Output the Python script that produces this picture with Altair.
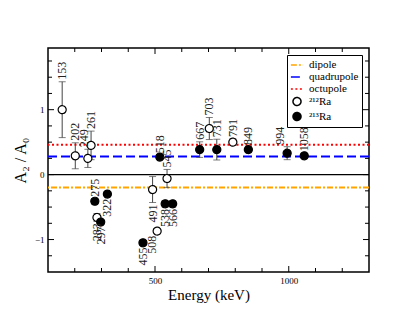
import altair as alt
import pandas as pd

# 212Ra (open circles)
E212 = [153, 202, 249, 261, 283, 491, 508, 545, 703, 791]
A212 = [1.00, 0.29, 0.25, 0.45, -0.66, -0.23, -0.87, -0.06, 0.71, 0.50]
ERR212 = [0.43, 0.20, 0.14, 0.22, 0.06, 0.20, 0.04, 0.14, 0.17, 0.05]

# 213Ra (filled circles)
E213 = [275, 297, 322, 455, 518, 538, 566, 667, 731, 849, 994, 1058]
A213 = [-0.41, -0.73, -0.30, -1.05, 0.27, -0.45, -0.45, 0.385, 0.385, 0.385, 0.33, 0.29]
ERR213 = [0.04, 0.04, 0.04, 0.04, 0.03, 0.05, 0.05, 0.12, 0.16, 0.04, 0.10, 0.04]

# theoretical reference lines
LINE_NAMES = ["dipole", "quadrupole", "octupole"]
LINE_VALUES = [-0.20, 0.28, 0.46]

SERIES = ["dipole", "quadrupole", "octupole", "\u00b2\u00b9\u00b2Ra", "\u00b2\u00b9\u00b3Ra"]
COLORS = ["#FFA500", "#0000FF", "#FF0000", "black", "black"]
DASHES = [[6, 2, 2, 2], [9, 4], [2, 2.5], [1, 0], [1, 0]]
FILLS = ["transparent", "transparent", "transparent", "white", "black"]
SIZES = [150, 150, 150, 64, 64]

BELOW = [283, 297, 322, 455, 491, 508, 538, 566]
# sideways nudges of a few labels (pixels, + = right)
LABEL_SHIFT = {994: -7, 249: -4, 508: -5}

X_MAJOR = [500, 1000]
X_MINOR = [200, 300, 400, 600, 700, 800, 900, 1100, 1200]
Y_MAJOR = [-1, 0, 1]
Y_MINOR = [-1.25, -0.75, -0.5, -0.25, 0.25, 0.5, 0.75, 1.25, 1.5, 1.75]

W, H = 321, 224
FONT = "Liberation Serif"

rows = []
for e, a, er in zip(E212, A212, ERR212):
    rows.append(dict(energy=e, a2=a, lo=a - er, hi=a + er, series=SERIES[3]))
for e, a, er in zip(E213, A213, ERR213):
    rows.append(dict(energy=e, a2=a, lo=a - er, hi=a + er, series=SERIES[4]))
pts = pd.DataFrame(rows)
pts["label"] = pts["energy"].astype(str)
pts["below"] = pts["energy"].isin(BELOW)
pts["shift"] = pts["energy"].map(LABEL_SHIFT).fillna(0)

lines = pd.DataFrame({"series": LINE_NAMES, "y": LINE_VALUES})

xs = alt.Scale(domain=[100, 1300], nice=False, zero=False)
ys = alt.Scale(domain=[-1.5, 1.95], nice=False, zero=False)

LEG = alt.Legend(title=None, orient="top-right", offset=7)
color = alt.Color("series:N", scale=alt.Scale(domain=SERIES, range=COLORS), legend=LEG)
dash = alt.StrokeDash("series:N", scale=alt.Scale(domain=SERIES, range=DASHES), legend=LEG)

XAX = alt.Axis(values=X_MAJOR, format="d", title="Energy (keV)", titleFontSize=15,
               titlePadding=2)
YAX = alt.Axis(values=Y_MAJOR, title="A\u2082 / A\u2080", titleFontSize=16, titlePadding=6)

base_pts = alt.Chart(pts)

zero = alt.Chart(pd.DataFrame({"y": [0]})).mark_rule(color="black", strokeWidth=1.2).encode(
    y=alt.Y("y:Q", scale=ys, axis=YAX))

ref = alt.Chart(lines).mark_rule(strokeWidth=2).encode(
    y=alt.Y("y:Q", scale=ys, axis=YAX),
    color=color, strokeDash=dash)

bars = base_pts.mark_rule(color="#444", strokeWidth=1).encode(
    x=alt.X("energy:Q", scale=xs, axis=XAX), y=alt.Y("lo:Q", scale=ys, axis=YAX), y2="hi:Q")
cap_lo = base_pts.mark_tick(color="#444", thickness=1, size=7, orient="horizontal").encode(
    x=alt.X("energy:Q", scale=xs, axis=XAX), y=alt.Y("lo:Q", scale=ys, axis=YAX))
cap_hi = base_pts.mark_tick(color="#444", thickness=1, size=7, orient="horizontal").encode(
    x=alt.X("energy:Q", scale=xs, axis=XAX), y=alt.Y("hi:Q", scale=ys, axis=YAX))

points = base_pts.mark_point(filled=False, strokeWidth=1.2, opacity=1).encode(
    x=alt.X("energy:Q", scale=xs, axis=XAX), y=alt.Y("a2:Q", scale=ys, axis=YAX),
    color=color, strokeDash=dash,
    shape=alt.Shape("series:N", scale=alt.Scale(domain=SERIES,
                    range=["stroke", "stroke", "stroke", "circle", "circle"]), legend=LEG),
    fill=alt.Fill("series:N", scale=alt.Scale(domain=SERIES, range=FILLS), legend=LEG),
    size=alt.Size("series:N", scale=alt.Scale(type="ordinal", domain=SERIES, range=SIZES),
                  legend=LEG))

label_layers = []
for below in (False, True):
    for sh in sorted(set(pts.loc[pts["below"] == below, "shift"])):
        flt = f"datum.below == {'true' if below else 'false'} && datum.shift == {sh}"
        label_layers.append(
            base_pts.transform_filter(flt).mark_text(
                angle=270, align="right" if below else "left", baseline="middle",
                dx=-2 if below else 2, dy=sh, font=FONT, fontSize=12, color="#222"
            ).encode(x=alt.X("energy:Q", scale=xs, axis=XAX),
                     y=alt.Y("lo:Q" if below else "hi:Q", scale=ys, axis=YAX),
                     text="label:N"))


def ticks(vals, axis, side, length):
    df = pd.DataFrame({"v": vals})
    c = alt.Chart(df).mark_rule(color="black", strokeWidth=1)
    if axis == "x":
        if side == "bottom":
            return c.encode(x=alt.X("v:Q", scale=xs, axis=XAX), y=alt.value(H),
                            y2=alt.value(H - length))
        return c.encode(x=alt.X("v:Q", scale=xs, axis=XAX), y=alt.value(0),
                        y2=alt.value(length))
    if side == "left":
        return c.encode(y=alt.Y("v:Q", scale=ys, axis=YAX), x=alt.value(0),
                        x2=alt.value(length))
    return c.encode(y=alt.Y("v:Q", scale=ys, axis=YAX), x=alt.value(W),
                    x2=alt.value(W - length))


tick_layers = [
    ticks(X_MAJOR, "x", "bottom", 6), ticks(X_MINOR, "x", "bottom", 4),
    ticks(X_MAJOR, "x", "top", 6), ticks(X_MINOR, "x", "top", 4),
    ticks(Y_MAJOR, "y", "left", 6), ticks(Y_MINOR, "y", "left", 4),
    ticks(Y_MAJOR, "y", "right", 6), ticks(Y_MINOR, "y", "right", 4),
]

chart = alt.layer(
    ref, zero, bars, cap_lo, cap_hi, points, *label_layers, *tick_layers
).properties(
    width=W, height=H,
    autosize=alt.AutoSizeParams(type="none"),
    padding={"left": 40, "top": 40, "right": 38, "bottom": 41},
).configure(
    font=FONT
).configure_axis(
    labelFont=FONT, titleFont=FONT, labelFontSize=9, titleFontWeight="normal",
    labelColor="black", titleColor="black", tickSize=0, domain=False, grid=False,
    labelPadding=4
).configure_view(
    stroke="black", strokeWidth=1.5
).configure_legend(
    labelFont=FONT, labelFontSize=11, labelColor="black",
    strokeColor="black", fillColor="white", padding=3,
    symbolStrokeWidth=1.5, rowPadding=0, labelOffset=5, cornerRadius=0
)

chart.save("out.html", embed_options={"renderer": "svg", "actions": False})
